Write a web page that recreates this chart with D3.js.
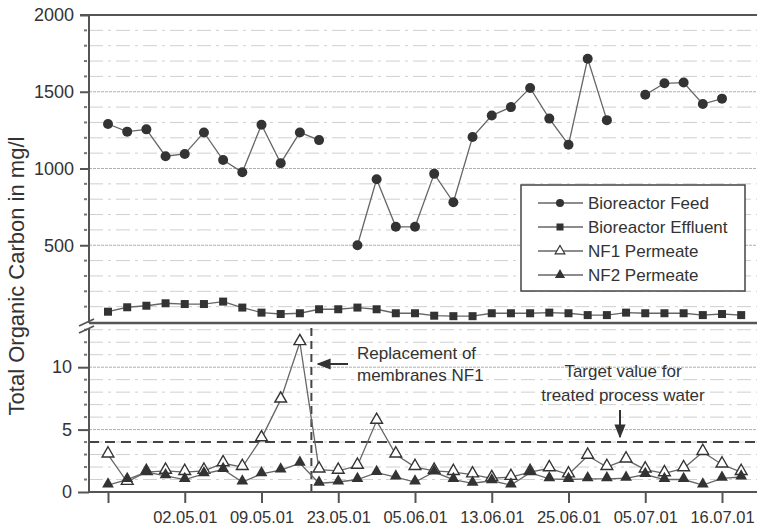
<!DOCTYPE html>
<html>
<head>
<meta charset="utf-8">
<script src="https://d3js.org/d3.v7.min.js"></script>
<style>
  body { margin: 0; background: #fff; }
  svg { font-family: "Liberation Sans", Arial, sans-serif; }
</style>
</head>
<body>
<div></div>
<script>
// sample index along x (34 samples), ticks every 4th sample
var tickIdx = [0, 4, 8, 12, 16, 20, 24, 28, 32];
var tickLabels = ['', '02.05.01', '09.05.01', '23.05.01', '05.06.01', '13.06.01', '25.06.01', '05.07.01', '16.07.01'];

var feed = [1290, 1240, 1255, 1080, 1095, 1235, 1055, 975, 1285, 1035, 1235, 1185, null, 500, 930, 620, 620,
    965, 780, 1205, 1345, 1400, 1525, 1325, 1155, 1715, 1315, null, 1480, 1555, 1560, 1420, 1455, null];
var effluent = [67, 96, 106, 122, 117, 117, 133, 94, 61, 52, 57, 83, 83, 94, 83, 57, 57, 41, 38, 38, 57, 57,
    57, 61, 57, 45, 45, 61, 57, 57, 57, 45, 52, 45];
var nf1 = [3.0, 0.8, 1.6, 1.7, 1.6, 1.7, 2.3, 2.0, 4.3, 7.4, 12.0, 1.8, 1.7, 2.1, 5.7, 3.0, 2.0, 1.7, 1.6,
    1.4, 1.1, 1.2, 1.6, 1.9, 1.4, 2.9, 2.0, 2.6, 1.8, 1.5, 1.9, 3.2, 2.2, 1.6];
var nf2 = [0.55, 1.0, 1.6, 1.3, 1.0, 1.45, 1.8, 0.8, 1.45, 1.75, 2.3, 0.7, 0.8, 1.0, 1.55, 1.2, 0.8, 1.6, 1.0,
    0.7, 0.9, 0.55, 1.55, 1.05, 1.0, 1.05, 1.05, 1.1, 1.4, 1.0, 1.0, 0.55, 1.1, 1.2];

var topTicks = [500, 1000, 1500, 2000];
var botTicks = [0, 5, 10];
var targetValue = 4;
var replacementIdx = 10.6;

var width = 757, height = 528;
var left = 89, right = 757;

var svg = d3.select('div').append('svg')
    .attr('width', width)
    .attr('height', height);

var x = d3.scaleLinear().domain([0, 32]).range([108, 722]);
var yTop = d3.scaleLinear().domain([0, 2000]).range([322, 15]);
var yBot = d3.scaleLinear().domain([0, 13.3]).range([492, 326]);

var axisCol = '#555', textCol = '#333';

// gridlines
var topGrid = d3.range(100, 2000, 100);
var botGrid = d3.range(1, 14, 1);
svg.append('g').selectAll('line')
    .data(topGrid)
    .enter().append('line')
    .attr('x1', left).attr('x2', right)
    .attr('y1', d => yTop(d)).attr('y2', d => yTop(d))
    .attr('stroke', d => d % 500 == 0 ? '#b0b0b0' : '#cfcfcf')
    .attr('stroke-width', 1)
    .attr('stroke-dasharray', d => d % 500 == 0 ? '3,1' : '14,5,3,5');
svg.append('g').selectAll('line')
    .data(botGrid)
    .enter().append('line')
    .attr('x1', left).attr('x2', right)
    .attr('y1', d => yBot(d)).attr('y2', d => yBot(d))
    .attr('stroke', d => d % 5 == 0 ? '#b0b0b0' : '#cfcfcf')
    .attr('stroke-width', 1)
    .attr('stroke-dasharray', d => d % 5 == 0 ? '3,1' : '14,5,3,5');

// minor tick dots
svg.append('g').selectAll('rect')
    .data(topGrid.filter(d => d % 500 != 0))
    .enter().append('rect')
    .attr('x', 84).attr('y', d => yTop(d) - 1)
    .attr('width', 3).attr('height', 2)
    .attr('fill', '#777');
svg.append('g').selectAll('rect')
    .data(botGrid.filter(d => d % 5 != 0))
    .enter().append('rect')
    .attr('x', 84).attr('y', d => yBot(d) - 1)
    .attr('width', 3).attr('height', 2)
    .attr('fill', '#777');

// target line
svg.append('line')
    .attr('x1', left).attr('x2', right)
    .attr('y1', yBot(targetValue)).attr('y2', yBot(targetValue))
    .attr('stroke', '#444').attr('stroke-width', 2)
    .attr('stroke-dasharray', '10,6');

// replacement line
svg.append('line')
    .attr('x1', x(replacementIdx)).attr('x2', x(replacementIdx))
    .attr('y1', 328).attr('y2', 492)
    .attr('stroke', '#444').attr('stroke-width', 2)
    .attr('stroke-dasharray', '8,5');

// frame lines
svg.append('line').attr('x1', 80).attr('x2', right).attr('y1', 15).attr('y2', 15)
    .attr('stroke', axisCol).attr('stroke-width', 2);
svg.append('line').attr('x1', left).attr('x2', right).attr('y1', 323).attr('y2', 323)
    .attr('stroke', axisCol).attr('stroke-width', 2.5);
svg.append('line').attr('x1', left).attr('x2', left).attr('y1', 15).attr('y2', 323)
    .attr('stroke', axisCol).attr('stroke-width', 2);
svg.append('line').attr('x1', left).attr('x2', left).attr('y1', 328).attr('y2', 492)
    .attr('stroke', axisCol).attr('stroke-width', 2);
svg.append('line').attr('x1', left).attr('x2', right).attr('y1', 492).attr('y2', 492)
    .attr('stroke', axisCol).attr('stroke-width', 2);

// axis break marks
svg.append('line').attr('x1', 79).attr('y1', 326).attr('x2', 94).attr('y2', 319)
    .attr('stroke', axisCol).attr('stroke-width', 1.8);
svg.append('line').attr('x1', 79).attr('y1', 333).attr('x2', 94).attr('y2', 326)
    .attr('stroke', axisCol).attr('stroke-width', 1.8);

// y axes
function styleAxis(g) {
    g.select('.domain').remove();
    g.selectAll('.tick line').attr('stroke', axisCol).attr('stroke-width', 2);
    g.selectAll('.tick text').attr('fill', textCol).style('font-size', '18px')
        .style('font-family', '"Liberation Sans", Arial, sans-serif');
}
svg.append('g')
    .attr('transform', 'translate(' + left + ',0)')
    .call(d3.axisLeft(yTop).tickValues(topTicks).tickSize(9).tickPadding(6).tickFormat(d3.format('d')))
    .call(styleAxis);
svg.append('g')
    .attr('transform', 'translate(' + left + ',0)')
    .call(d3.axisLeft(yBot).tickValues(botTicks).tickSize(11).tickPadding(6).tickFormat(d3.format('d')))
    .call(styleAxis);

// x axis
svg.append('g')
    .attr('transform', 'translate(0,492)')
    .call(d3.axisBottom(x).tickValues(tickIdx).tickSize(11).tickPadding(8)
        .tickFormat((d, i) => tickLabels[i]))
    .call(styleAxis)
    .selectAll('.tick text').style('font-size', '16.5px');

// y title
svg.append('text')
    .attr('transform', 'translate(24,' + 276 + ') rotate(-90)')
    .attr('text-anchor', 'middle')
    .attr('fill', textCol)
    .style('font-size', '22px')
    .text('Total Organic Carbon in mg/l');

// series
var lineCol = '#666', markCol = '#333';
function drawLine(data, y) {
    var line = d3.line()
        .defined(d => d != null)
        .x((d, i) => x(i))
        .y(d => y(d));
    svg.append('path')
        .datum(data)
        .attr('d', line)
        .attr('fill', 'none')
        .attr('stroke', lineCol)
        .attr('stroke-width', 1.3);
}
var triUp = d3.symbol().type(d3.symbolTriangle).size(60);

drawLine(feed, yTop);
svg.append('g').selectAll('circle')
    .data(feed.map((v, i) => ({ v: v, i: i })).filter(d => d.v != null))
    .enter().append('circle')
    .attr('cx', d => x(d.i)).attr('cy', d => yTop(d.v))
    .attr('r', 5).attr('fill', markCol);

drawLine(effluent, yTop);
svg.append('g').selectAll('rect')
    .data(effluent)
    .enter().append('rect')
    .attr('x', (d, i) => x(i) - 4).attr('y', d => yTop(d) - 4)
    .attr('width', 8).attr('height', 8)
    .attr('fill', markCol);

drawLine(nf1, yBot);
svg.append('g').selectAll('path')
    .data(nf1)
    .enter().append('path')
    .attr('d', triUp)
    .attr('transform', (d, i) => 'translate(' + x(i) + ',' + (yBot(d) - 1) + ')')
    .attr('fill', '#fff').attr('stroke', markCol).attr('stroke-width', 1.4);

drawLine(nf2, yBot);
svg.append('g').selectAll('path')
    .data(nf2)
    .enter().append('path')
    .attr('d', triUp)
    .attr('transform', (d, i) => 'translate(' + x(i) + ',' + (yBot(d) - 1) + ')')
    .attr('fill', markCol);

// annotations
svg.append('defs').append('marker')
    .attr('id', 'arr')
    .attr('viewBox', '0 0 10 10')
    .attr('refX', 9).attr('refY', 5)
    .attr('markerWidth', 7).attr('markerHeight', 7)
    .attr('orient', 'auto-start-reverse')
    .append('path').attr('d', 'M0,1 L10,5 L0,9 Z').attr('fill', '#333');

svg.append('line')
    .attr('x1', 348).attr('y1', 364).attr('x2', 318).attr('y2', 364)
    .attr('stroke', '#333').attr('stroke-width', 2)
    .attr('marker-end', 'url(#arr)');
svg.append('text').attr('x', 357).attr('y', 359).attr('fill', textCol)
    .style('font-size', '17px').text('Replacement of');
svg.append('text').attr('x', 357).attr('y', 381).attr('fill', textCol)
    .style('font-size', '17px').text('membranes NF1');

svg.append('text').attr('x', 623).attr('y', 377).attr('text-anchor', 'middle').attr('fill', textCol)
    .style('font-size', '17px').text('Target value for');
svg.append('text').attr('x', 623).attr('y', 401).attr('text-anchor', 'middle').attr('fill', textCol)
    .style('font-size', '17px').text('treated process water');
svg.append('line')
    .attr('x1', 620).attr('y1', 410).attr('x2', 620).attr('y2', 437)
    .attr('stroke', '#333').attr('stroke-width', 2)
    .attr('marker-end', 'url(#arr)');

// legend
var legendNames = ['Bioreactor Feed', 'Bioreactor Effluent', 'NF1 Permeate', 'NF2 Permeate'];
var lg = svg.append('g');
lg.append('rect')
    .attr('x', 521).attr('y', 185).attr('width', 224).attr('height', 106)
    .attr('fill', '#fff').attr('stroke', '#444').attr('stroke-width', 1.5);
var items = lg.selectAll('g.item')
    .data(legendNames)
    .enter().append('g')
    .attr('transform', (d, i) => 'translate(0,' + (203 + i * 24) + ')');
items.append('line')
    .attr('x1', 538).attr('x2', 583).attr('y1', 0).attr('y2', 0)
    .attr('stroke', lineCol).attr('stroke-width', 1.3);
items.append('text')
    .attr('x', 588).attr('y', 6)
    .attr('fill', textCol)
    .style('font-size', '17px')
    .text(d => d);
items.each(function (d, i) {
    var g = d3.select(this);
    if (i == 0) g.append('circle').attr('cx', 560).attr('cy', 0).attr('r', 4).attr('fill', markCol);
    if (i == 1) g.append('rect').attr('x', 556.5).attr('y', -3.5).attr('width', 7).attr('height', 7).attr('fill', markCol);
    if (i == 2) g.append('path').attr('d', d3.symbol().type(d3.symbolTriangle).size(40))
        .attr('transform', 'translate(560,0)').attr('fill', '#fff').attr('stroke', markCol).attr('stroke-width', 1.2);
    if (i == 3) g.append('path').attr('d', d3.symbol().type(d3.symbolTriangle).size(45))
        .attr('transform', 'translate(560,0)').attr('fill', markCol);
});
</script>
</body>
</html>
